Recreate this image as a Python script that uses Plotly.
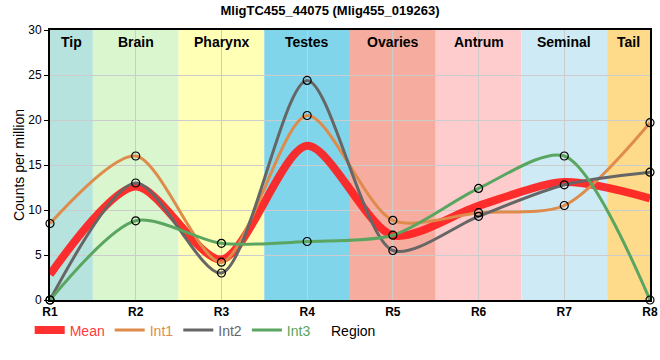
import plotly.graph_objects as go

regions = ["R1", "R2", "R3", "R4", "R5", "R6", "R7", "R8"]
tissues = ["Tip", "Brain", "Pharynx", "Testes", "Ovaries", "Antrum", "Seminal", "Tail"]
tissue_colors = ["#b7e3de", "#d9f6cf", "#ffffb5", "#80d5eb", "#f6ad9f", "#fecccc", "#ceebf5", "#fddb8a"]

int1 = [8.5, 16.0, 4.2, 20.5, 8.85, 9.7, 10.5, 19.7]
int2 = [0.0, 13.0, 3.0, 24.4, 5.5, 9.3, 12.8, 14.2]
int3 = [0.0, 8.8, 6.3, 6.5, 7.2, 12.4, 16.0, 0.0]
mean = [(a + b + c) / 3 for a, b, c in zip(int1, int2, int3)]

series = [
    ("Int1", int1, "#de8b4b"),
    ("Int2", int2, "#666666"),
    ("Int3", int3, "#5aa560"),
]

FONT = "Liberation Sans, Arial, sans-serif"
SMOOTH = 0.8
x = list(range(len(regions)))

fig = go.Figure()
fig.add_trace(go.Scatter(
    x=x, y=mean, mode="lines", name="<span style='color:#ff3b3b'>Mean</span>",
    line=dict(color="rgba(255,30,30,0.92)", width=8, shape="spline", smoothing=SMOOTH),
    hoverinfo="skip",
))
for name, vals, col in series:
    fig.add_trace(go.Scatter(
        x=x, y=vals, mode="lines", legendgroup=name,
        name=f"<span style='color:{col}'>{name}</span>",
        line=dict(color=col, width=3, shape="spline", smoothing=SMOOTH),
    ))
for name, vals, col in series:
    fig.add_trace(go.Scatter(
        x=x, y=vals, mode="markers", legendgroup=name, showlegend=False,
        marker=dict(symbol="circle-open", size=8, color="black", line=dict(width=1.2, color="black")),
        cliponaxis=False,
    ))

n = len(regions)
for i, (t, c) in enumerate(zip(tissues, tissue_colors)):
    x0 = max(i - 0.5, 0)
    x1 = min(i + 0.5, n - 1)
    fig.add_shape(type="rect", xref="x", yref="paper", x0=x0, x1=x1, y0=0, y1=1,
                  fillcolor=c, line=dict(width=0), layer="between")
    fig.add_annotation(x=(x0 + x1) / 2, y=1, xref="x", yref="paper", yanchor="top",
                       yshift=-2, text=f"<b>{t}</b>", showarrow=False,
                       font=dict(family=FONT, size=14, color="black"))

# x-axis title placed beside the legend, as in the reference
fig.add_annotation(x=0.505, y=-0.115, xref="paper", yref="paper", xanchor="center",
                   yanchor="middle", text="Region", showarrow=False,
                   font=dict(family=FONT, size=14, color="black"))

fig.update_layout(
    width=660, height=360,
    margin=dict(l=50, r=10, t=30, b=60, autoexpand=False),
    paper_bgcolor="white", plot_bgcolor="white",
    font=dict(family=FONT, size=12, color="black"),
    title=dict(text="<b>MligTC455_44075 (Mlig455_019263)</b>", x=0.5, xanchor="center",
               y=0.985, yanchor="top", font=dict(family=FONT, size=13, color="black")),
    showlegend=True,
    legend=dict(orientation="h", xref="container", x=0.045, xanchor="left",
                yref="container", y=0.082, yanchor="middle",
                font=dict(family=FONT, size=14), bgcolor="rgba(0,0,0,0)",
                itemwidth=30, tracegroupgap=0),
)
fig.update_xaxes(
    range=[0, n - 1], tickmode="array", tickvals=x,
    ticktext=[f"<b>{r}</b>" for r in regions],
    tickfont=dict(family=FONT, size=12, color="black"),
    ticklabeloverflow="allow",
    showgrid=True, gridcolor="#cccccc", gridwidth=1,
    showline=True, linecolor="black", linewidth=2, mirror=True,
    ticks="", zeroline=False, automargin=False,
)
fig.update_yaxes(
    range=[0, 30], tickmode="array", tickvals=[0, 5, 10, 15, 20, 25, 30],
    tickfont=dict(family=FONT, size=12, color="black"),
    showgrid=True, gridcolor="#cccccc", gridwidth=1,
    showline=True, linecolor="black", linewidth=2, mirror=True,
    ticks="outside", ticklen=4, tickcolor="black", zeroline=False, automargin=False,
    title=dict(text="Counts per million", font=dict(family=FONT, size=14), standoff=0),
)

fig.write_html("out.html", config={"displayModeBar": False},
               post_script="document.body.style.margin='0';")
